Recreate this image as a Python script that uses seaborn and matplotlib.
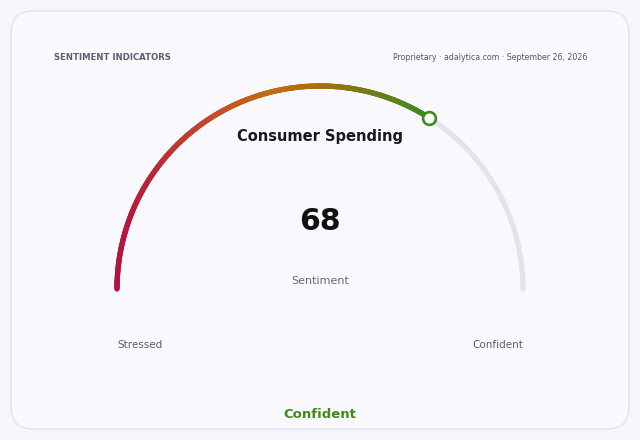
import numpy as np
import pandas as pd
import matplotlib
matplotlib.use('Agg')
import matplotlib.pyplot as plt
from matplotlib.collections import LineCollection
from matplotlib.colors import LinearSegmentedColormap
from matplotlib.patches import FancyBboxPatch
import seaborn as sns

# %% dados
indicador = 'Consumer Spending'
valor = 68
escala = [0, 100]
rotulos_extremos = ['Stressed', 'Confident']
status = 'Confident'
cabecalho = 'SENTIMENT INDICATORS'
fonte = 'Proprietary · adalytica.com · September 26, 2026'
subtitulo = 'Sentiment'

# %% estilo
sns.set_style('white')
plt.rcParams['font.family'] = ['DejaVu Sans']

# gradiente horizontal: vermelho -> laranja -> verde
cmap = LinearSegmentedColormap.from_list('grad', [
    (0.0, '#b3133f'), (0.3, '#c44a28'), (0.5, '#c26d12'),
    (0.66, '#a56e12'), (0.83, '#6c8018'), (1.0, '#3d8a1f')])
verde = '#3f8a1f'

fig = plt.figure(figsize=(6.4, 4.4), dpi=100)
fig.patch.set_facecolor('#f6f6fa')
ax = fig.add_axes([0, 0, 1, 1])
ax.set_xlim(0, 640)
ax.set_ylim(440, 0)
ax.axis('off')

# cartao
card = FancyBboxPatch((11, 11), 618, 418, boxstyle='round,pad=0,rounding_size=22',
                      facecolor='#f9f9fd', edgecolor='#e3e3ec', linewidth=1.1, zorder=0)
ax.add_patch(card)

# geometria do gauge
cx, cy, r = 320, 289, 203

def angulo(v):
    return np.pi * (1 - (v - escala[0]) / (escala[1] - escala[0]))

# trilho de fundo
t = np.linspace(angulo(escala[0]), angulo(escala[1]), 300)
trilho = pd.DataFrame({'x': cx + r * np.cos(t), 'y': cy - r * np.sin(t)})
sns.lineplot(data=trilho, x='x', y='y', sort=False, ax=ax, color='#e3e3e8',
             linewidth=3.8, solid_capstyle='round', zorder=1)

# arco com gradiente ate o valor
tv = np.linspace(angulo(escala[0]), angulo(valor), 400)
px = cx + r * np.cos(tv)
py = cy - r * np.sin(tv)
pts = np.column_stack([px, py]).reshape(-1, 1, 2)
segs = np.concatenate([pts[:-1], pts[1:]], axis=1)
xm = (px[:-1] + px[1:]) / 2
pos = (xm - px.min()) / (px.max() - px.min())
lc = LineCollection(segs, colors=cmap(pos), linewidth=3.8, capstyle='round', zorder=2)
ax.add_collection(lc)

# marcador
sns.scatterplot(x=[px[-1]], y=[py[-1]], ax=ax, s=85, color='white', edgecolor=verde,
                linewidth=1.9, zorder=3)

# textos
ax.text(54, 57, cabecalho, fontsize=6.1, fontweight='bold', color='#5c5c72', ha='left', va='center')
ax.text(587, 57, fonte, fontsize=5.7, color='#55556a', ha='right', va='center')
ax.text(cx, 137, indicador, fontsize=10.5, fontweight='bold', color='#18181b', ha='center', va='center')
ax.text(cx, 221, str(valor), fontsize=21.5, fontweight='bold', color='#111114', ha='center', va='center')
ax.text(cx, 281, subtitulo, fontsize=8, color='#666675', ha='center', va='center')
ax.text(117, 345, rotulos_extremos[0], fontsize=7.5, color='#5c5c6a', ha='left', va='center')
ax.text(523, 345, rotulos_extremos[1], fontsize=7.5, color='#5c5c6a', ha='right', va='center')
ax.text(cx, 414, status, fontsize=9.5, fontweight='bold', color=verde, ha='center', va='center')

plt.savefig('out.png', dpi=100, facecolor=fig.get_facecolor())
